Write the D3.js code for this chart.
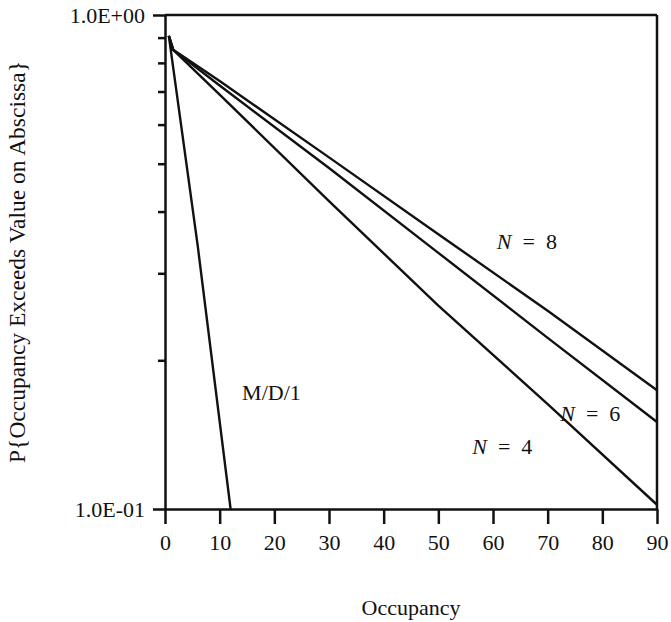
<!DOCTYPE html>
<html>
<head>
<meta charset="utf-8">
<script src="https://cdn.jsdelivr.net/npm/d3@7"></script>
<style>
  body { margin: 0; background: #fff; }
  svg text { font-family: "Liberation Serif", "DejaVu Serif", serif; fill: #111; }
</style>
</head>
<body>
<div id="chart"></div>
<script>
// values: [occupancy, P{occupancy > x}]
const md1 = [[0.7, 0.907], [6, 0.34], [12, 0.1]];
const n4 = [[0.7, 0.907], [1.5, 0.85], [10, 0.69], [30, 0.42], [50, 0.258], [70, 0.163], [90, 0.102]];
const n6 = [[0.7, 0.907], [1.5, 0.85], [10, 0.72], [30, 0.49], [50, 0.330], [70, 0.222], [90, 0.150]];
const n8 = [[0.7, 0.907], [1.5, 0.85], [10, 0.735], [30, 0.515], [50, 0.360], [70, 0.252], [90, 0.174]];

const xTicks = [0, 10, 20, 30, 40, 50, 60, 70, 80, 90];
const yMajor = [0.1, 1];
const yMajorLabels = ["1.0E-01", "1.0E+00"];
const yMinor = [0.2, 0.3, 0.4, 0.5, 0.6, 0.7, 0.8, 0.9];

// curve labels, in data units
const labels = [
  { name: "M/D/1", x: 14.1, y: 0.166, italic: false },
  { name: "N", rest: " = 8", x: 60.7, y: 0.336, italic: true },
  { name: "N", rest: " = 6", x: 72.3, y: 0.151, italic: true },
  { name: "N", rest: " = 4", x: 56.2, y: 0.129, italic: true }
];

const width = 671, height = 622;
const x = d3.scaleLinear().domain([0, 90]).range([165, 657]);
const y = d3.scaleLog().domain([0.1, 1]).range([509, 15]);

const svg = d3.select("#chart").append("svg")
  .attr("width", width).attr("height", height);

// x axis
const gx = svg.append("g")
  .attr("transform", `translate(0,${y(0.1)})`)
  .call(d3.axisBottom(x).tickValues(xTicks).tickSize(15).tickSizeOuter(0).tickPadding(10).tickFormat(d3.format("d")));
gx.selectAll("text").attr("font-size", 22).attr("fill", "#111");

// y axis, labelled ends
const gy = svg.append("g")
  .attr("transform", `translate(${x(0)},0)`)
  .call(d3.axisLeft(y).tickValues(yMajor).tickSize(12).tickSizeOuter(0).tickPadding(8)
    .tickFormat((d, i) => yMajorLabels[i]));
gy.selectAll("text").attr("font-size", 22).attr("fill", "#111");

// y minor ticks
svg.append("g")
  .attr("transform", `translate(${x(0)},0)`)
  .call(d3.axisLeft(y).tickValues(yMinor).tickSize(7).tickSizeOuter(0).tickFormat(""))
  .select(".domain").remove();

svg.selectAll(".tick line, .domain").attr("stroke", "#111").attr("stroke-width", 2.5);

// top and right frame
svg.append("line")
  .attr("x1", x(0)).attr("x2", x(90)).attr("y1", y(1)).attr("y2", y(1))
  .attr("stroke", "#111").attr("stroke-width", 2.5);
svg.append("line")
  .attr("x1", x(90)).attr("x2", x(90)).attr("y1", y(1)).attr("y2", y(0.1))
  .attr("stroke", "#111").attr("stroke-width", 2.5);

// curves
const line = d3.line().x(d => x(d[0])).y(d => y(d[1]));
svg.append("g")
  .attr("fill", "none")
  .attr("stroke", "#111")
  .attr("stroke-width", 2.4)
  .attr("stroke-linejoin", "round")
  .selectAll("path")
  .data([md1, n4, n6, n8])
  .join("path")
  .attr("d", line);

// curve labels
svg.append("g")
  .attr("font-size", 22)
  .selectAll("text")
  .data(labels)
  .join("text")
  .attr("x", d => x(d.x))
  .attr("y", d => y(d.y))
  .call(t => t.append("tspan")
    .attr("font-style", d => d.italic ? "italic" : "normal")
    .text(d => d.name))
  .call(t => t.filter(d => d.rest).append("tspan")
    .style("white-space", "pre")
    .text(d => d.rest.replace(" = ", "  =  ")));

// axis titles
svg.append("text")
  .attr("x", (x(0) + x(90)) / 2)
  .attr("y", 615)
  .attr("text-anchor", "middle")
  .attr("font-size", 22)
  .text("Occupancy");

svg.append("text")
  .attr("transform", `translate(25,${(y(1) + y(0.1)) / 2}) rotate(-90)`)
  .attr("text-anchor", "middle")
  .attr("font-size", 23.5)
  .text("P{Occupancy Exceeds Value on Abscissa}");
</script>
</body>
</html>
